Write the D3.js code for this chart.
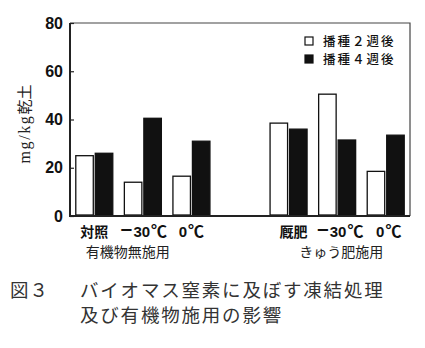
<!DOCTYPE html>
<html>
<head>
<meta charset="utf-8">
<script src="https://cdn.jsdelivr.net/npm/d3@7"></script>
<style>
  html, body { margin: 0; padding: 0; background: #fff; }
  svg { display: block; }
</style>
</head>
<body>
<svg id="chart" width="425" height="348"></svg>
<script>
// Biomass nitrogen (mg/kg dry soil) by freezing treatment and organic matter application
const groups = ["有機物無施用", "きゅう肥施用"];
const categories = [["対照", "−30℃", "0℃"], ["厩肥", "−30℃", "0℃"]];
const seriesNames = ["播種２週後", "播種４週後"];
const week2 = [25, 14, 16.5, 38.5, 50.5, 18.5];
const week4 = [26, 40.5, 31, 36, 31.5, 33.5];
const yTicks = [0, 20, 40, 60, 80];
const yLabel = ["mg/kg", "乾土"];
const captionNo = "図３";
const captionLines = ["バイオマス窒素に及ぼす凍結処理", "及び有機物施用の影響"];

const svg = d3.select("#chart");
const m = { left: 70, right: 410, top: 23, bottom: 216 };

// seven slots: three per group plus an empty slot between the groups
const slotOf = (g, i) => g * 4 + i;
const x = d3.scaleBand().domain(d3.range(7)).range([m.left, m.right]);
const y = d3.scaleLinear().domain([0, 80]).range([m.bottom, m.top]);

const cjk = "'Noto Sans CJK JP', sans-serif";
const sansBold = "'Liberation Sans', Arial, sans-serif";

// frame: thin top and right edges
svg.append("path")
  .attr("d", `M${m.left},${m.top}H${m.right}V${m.bottom}`)
  .attr("fill", "none").attr("stroke", "#444").attr("stroke-width", 1.2);

// bars
const barW = 17.5, gap = 1;
const rows = [];
categories.forEach((cats, g) => cats.forEach((c, i) => {
  const k = g * 3 + i;
  rows.push({ slot: slotOf(g, i), v: week2[k], s: 0 });
  rows.push({ slot: slotOf(g, i), v: week4[k], s: 1 });
}));
svg.append("g").selectAll("rect").data(rows).join("rect")
  .attr("x", d => {
    const c = x(d.slot) + x.bandwidth() / 2;
    return d.s === 0 ? c - gap - barW : c + gap;
  })
  .attr("y", d => y(d.v))
  .attr("width", barW)
  .attr("height", d => y(0) - y(d.v) - 1)
  .attr("fill", d => d.s === 0 ? "#fff" : "#111")
  .attr("stroke", "#111").attr("stroke-width", 1.3);

// y axis with inward ticks
const yAxis = svg.append("g")
  .attr("transform", `translate(${m.left},0)`)
  .call(d3.axisLeft(y).tickValues(yTicks).tickSize(-4).tickPadding(7).tickFormat(d3.format("d")));
yAxis.select(".domain").remove();
yAxis.selectAll(".tick line").attr("stroke", "#222").attr("stroke-width", 1.2);
yAxis.selectAll(".tick text")
  .attr("font-family", sansBold).attr("font-weight", "bold")
  .attr("font-size", 16).attr("fill", "#111");

// thick left and bottom axis lines
svg.append("path")
  .attr("d", `M${m.left},${m.top}V${m.bottom}H${m.right}`)
  .attr("fill", "none").attr("stroke", "#222").attr("stroke-width", 2);

// category labels: digits in a Latin face, kanji and symbols in the CJK face
const catOffsets = [[0, 1, 0], [5, 3, 3]];
const partSize = p => /[0-9]/.test(p) ? 15 : (p === "−" ? 20 : (p === "℃" ? 16 : 14));
categories.forEach((cats, g) => cats.forEach((c, i) => {
  const t = svg.append("text")
    .attr("x", x(slotOf(g, i)) + x.bandwidth() / 2 + catOffsets[g][i])
    .attr("y", 237)
    .attr("text-anchor", "middle")
    .attr("font-weight", "bold")
    .attr("font-size", 14).attr("fill", "#111");
  const parts = c.match(/[0-9]+|−|℃|[^0-9−℃]+/g);
  parts.forEach((p, j) => {
    const digit = /[0-9]/.test(p);
    t.append("tspan")
      .attr("dx", j === 0 ? 0 : 1)
      .attr("font-family", digit ? sansBold : cjk)
      .attr("font-size", partSize(p))
      .text(p);
  });
}));

// group labels
groups.forEach((gname, g) => {
  const cx = x(slotOf(g, 1)) + x.bandwidth() / 2 + (g === 0 ? -15 : 4);
  svg.append("text")
    .attr("x", cx).attr("y", 257)
    .attr("text-anchor", "middle")
    .attr("font-family", cjk).attr("font-size", 14).attr("fill", "#222")
    .text(gname);
});

// y axis title
const yt = svg.append("text")
  .attr("transform", `translate(30,124) rotate(-90)`)
  .attr("text-anchor", "middle")
  .attr("fill", "#222");
yt.append("tspan")
  .attr("font-family", "'Liberation Serif', 'DejaVu Serif', serif")
  .attr("font-size", 16).attr("letter-spacing", 1.6)
  .text(yLabel[0]);
yt.append("tspan")
  .attr("font-family", cjk).attr("font-size", 15)
  .text(yLabel[1]);

// legend
const legend = svg.append("g").attr("transform", "translate(305,37)");
seriesNames.forEach((name, i) => {
  const row = legend.append("g").attr("transform", `translate(0,${i * 18})`);
  row.append("rect")
    .attr("x", 0).attr("y", 0).attr("width", 8).attr("height", 8)
    .attr("fill", i === 0 ? "#fff" : "#111")
    .attr("stroke", "#111").attr("stroke-width", 1.2);
  row.append("text")
    .attr("x", 18).attr("y", 9)
    .attr("font-family", cjk).attr("font-weight", 500)
    .attr("font-size", 12.5).attr("letter-spacing", 2)
    .attr("fill", "#111")
    .text(name);
});

// figure caption
svg.append("text")
  .attr("x", 10).attr("y", 297)
  .attr("font-family", cjk).attr("font-size", 18.5).attr("letter-spacing", 1)
  .attr("fill", "#333")
  .text(captionNo);
captionLines.forEach((line, i) => {
  svg.append("text")
    .attr("x", 80).attr("y", 297 + i * 25)
    .attr("font-family", cjk).attr("font-size", 18.5).attr("letter-spacing", 1.8)
    .attr("fill", "#333")
    .text(line);
});
</script>
</body>
</html>
